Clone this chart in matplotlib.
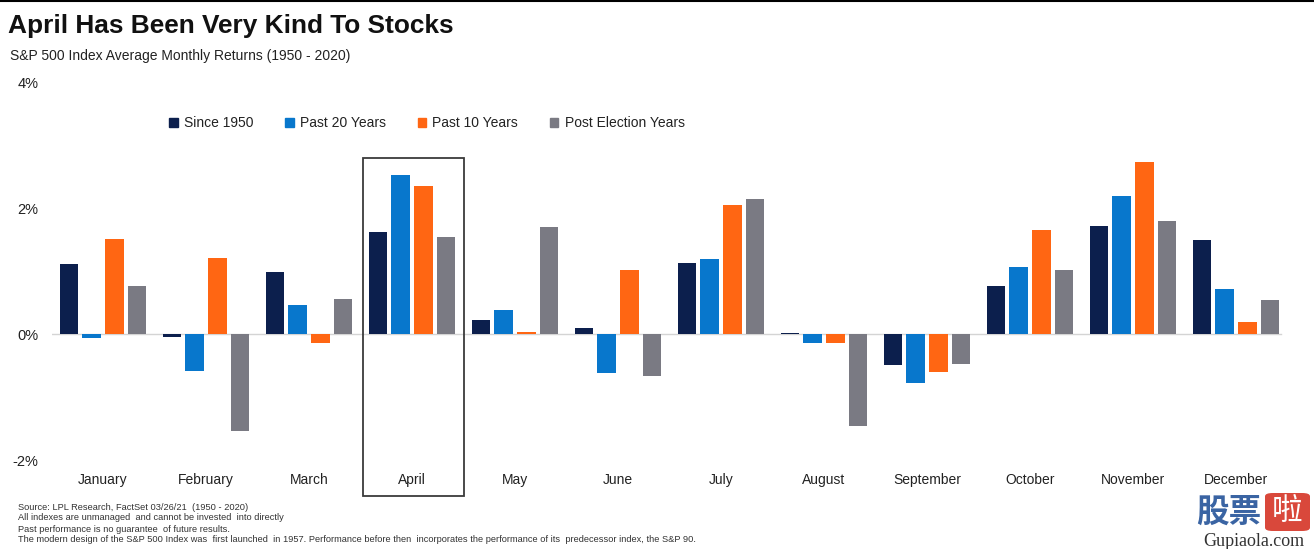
import matplotlib
matplotlib.use("Agg")
import matplotlib.pyplot as plt
import numpy as np
from matplotlib.patches import Rectangle, FancyBboxPatch
from matplotlib.lines import Line2D

months = ["January", "February", "March", "April", "May", "June", "July",
          "August", "September", "October", "November", "December"]
since_1950 = [1.11, -0.05, 0.98, 1.62, 0.22, 0.10, 1.12, 0.02, -0.49, 0.76, 1.71, 1.50]
past_20 = [-0.06, -0.59, 0.46, 2.52, 0.38, -0.62, 1.19, -0.15, -0.78, 1.07, 2.19, 0.71]
past_10 = [1.51, 1.21, -0.15, 2.35, 0.03, 1.02, 2.04, -0.14, -0.61, 1.65, 2.73, 0.19]
post_election = [0.76, -1.54, 0.56, 1.54, 1.70, -0.67, 2.15, -1.46, -0.47, 1.02, 1.79, 0.54]
series_names = ["Since 1950", "Past 20 Years", "Past 10 Years", "Post Election Years"]
colors = ["#0c1f4d", "#0877cc", "#ff6613", "#7a7a83"]
yticks = [-2, 0, 2, 4]
ytick_labels = ["-2%", "0%", "2%", "4%"]

plt.rcParams['font.family'] = ['Liberation Sans', 'DejaVu Sans']

fig = plt.figure(figsize=(13.14, 5.49), dpi=100)
ax = fig.add_axes([51.5/1314, (549-460)/549, 1236/1314, 378/549])

x = np.arange(len(months))
width = 0.18
step = 0.22
all_series = [since_1950, past_20, past_10, post_election]
for i, (vals, c, name) in enumerate(zip(all_series, colors, series_names)):
    ax.bar(x + (i - 1.5) * step, vals, width, color=c, label=name, zorder=3)

ax.set_xlim(-0.5, len(months) - 0.5)
ax.set_ylim(-2, 4)
ax.axhline(0, color="#d4d4d4", lw=1.0, zorder=2, xmin=0, xmax=0.995)
for s in ax.spines.values():
    s.set_visible(False)
ax.set_yticks(yticks)
ax.set_yticklabels(ytick_labels, fontsize=10.5, color="#222222")
ax.set_xticks(x)
ax.set_xticklabels(months, fontsize=10, color="#222222", family=['Liberation Sans Narrow', 'Liberation Sans', 'DejaVu Sans'])
ax.tick_params(axis='both', length=0)
ax.tick_params(axis='y', pad=9.5)
ax.tick_params(axis='x', pad=9.5)

# April highlight box
ax.add_patch(Rectangle((2.524, -2.57), 0.98, 2.79 + 2.57, fill=False, ec="#3a3a3a",
                       lw=1.3, clip_on=False, zorder=4))

handles = [Rectangle((0, 0), 1, 1, color=c) for c in colors]
leg = fig.legend(handles, series_names, loc="center", bbox_to_anchor=(427/1314, (549-123)/549),
                 ncol=4, frameon=False, fontsize=10, handlelength=0.6, handleheight=0.6,
                 handletextpad=0.45, columnspacing=2.3)
for t in leg.get_texts():
    t.set_color("#222222")

fig.text(8/1314, 1 - 26/549, "April Has Been Very Kind To Stocks", fontsize=18.9,
         fontweight="bold", va="center", ha="left", color="#111111")
fig.text(10/1314, 1 - 56/549, "S&P 500 Index Average Monthly Returns (1950 - 2020)",
         fontsize=10, va="center", ha="left", color="#222222")

footer = ["Source: LPL Research, FactSet 03/26/21  (1950 - 2020)",
          "All indexes are unmanaged  and cannot be invested  into directly",
          "Past performance is no guarantee  of future results.",
          "The modern design of the S&P 500 Index was  first launched  in 1957. Performance before then  incorporates the performance of its  predecessor index, the S&P 90."]
for k, line in enumerate(footer):
    fig.text(18/1314, 1 - (507 + 11 * k)/549, line, fontsize=6.7, va="center", ha="left",
             color="#333333", family=['Liberation Sans Narrow', 'Liberation Sans', 'DejaVu Sans'])

# top border line
fig.add_artist(Line2D([0, 1], [0.998, 0.998], color="black", lw=1.5, transform=fig.transFigure))

# watermark
cjk = ['Noto Sans CJK SC', 'DejaVu Sans']
fig.text(1196/1314, 1 - 512/549, "股票", fontsize=23.5, fontweight="bold", color="#3a64a3",
         va="center", ha="left", family=cjk)
fig.add_artist(FancyBboxPatch((1265/1314, 1 - 531/549), 45/1314, 38/549,
                              boxstyle="round,pad=0,rounding_size=0.006", fc="#d9483b", ec="none",
                              transform=fig.transFigure))
fig.text(1287.5/1314, 1 - 512/549, "啦", fontsize=22, color="white", va="center", ha="center",
         family=cjk)
fig.text(1254/1314, 1 - 541/549, "Gupiaola.com", fontsize=13, color="#333333",
         va="center", ha="center", family=['Liberation Serif', 'DejaVu Serif'])

fig.savefig("out.png", dpi=100)
